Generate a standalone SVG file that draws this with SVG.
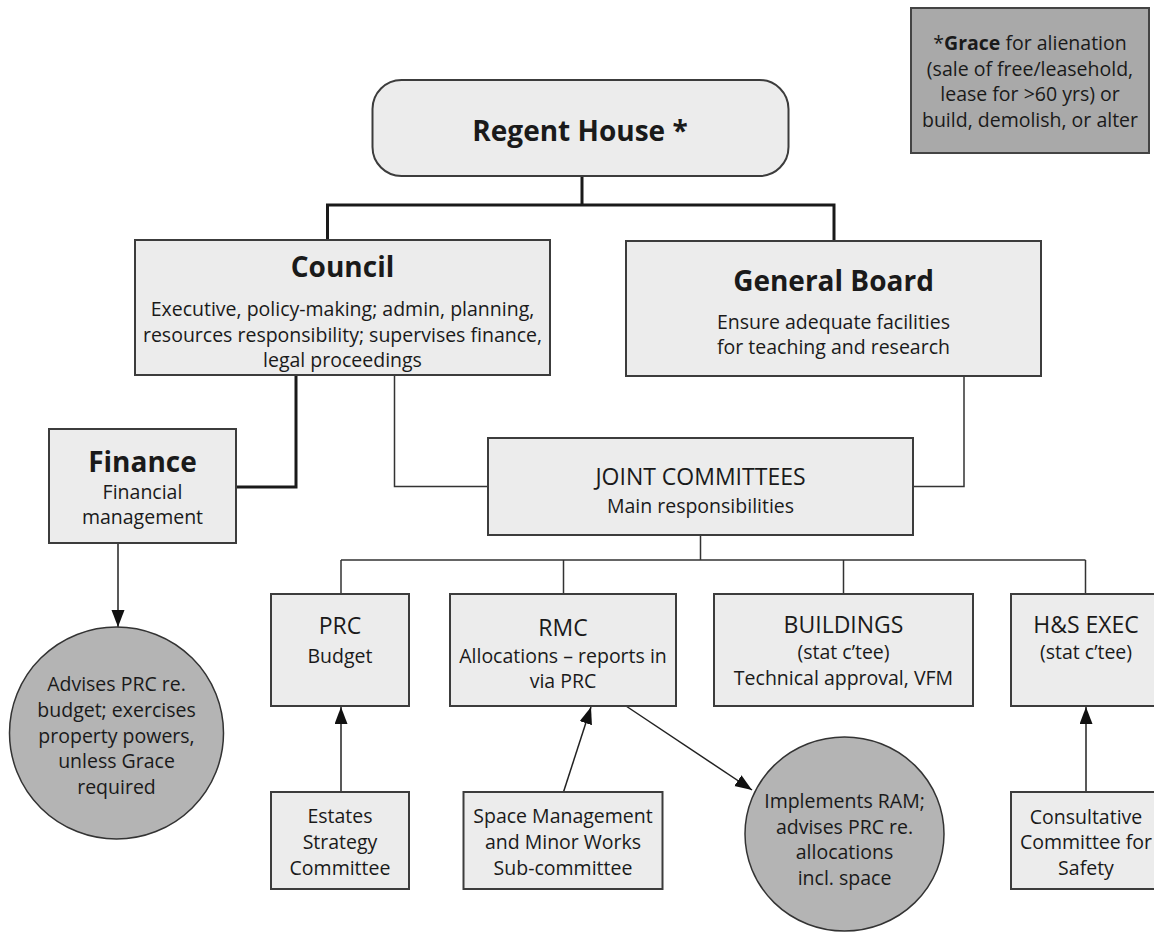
<svg xmlns="http://www.w3.org/2000/svg" width="1154" height="934" viewBox="0 0 1154 934">
<defs>
<style>
.box{fill:#ececec;stroke:#3c3c3c;stroke-width:2}
.circ{fill:#b4b4b4;stroke:#333;stroke-width:1.5}
.note{fill:#a9a9a9;stroke:#444;stroke-width:2}
text{font-family:"Open Sans","Noto Sans","Liberation Sans",sans-serif;fill:#1a1a1a;text-anchor:middle}
.b{font-size:19.5px}
.t{font-size:23px}
.h{font-size:28px;font-weight:bold}
.thick{fill:none;stroke:#1a1a1a;stroke-width:3}
.thin{fill:none;stroke:#333;stroke-width:1.5}
.arr{fill:none;stroke:#222;stroke-width:1.5;marker-end:url(#ah)}
</style>
<marker id="ah" markerUnits="userSpaceOnUse" markerWidth="18" markerHeight="14" refX="17" refY="6.5" orient="auto">
<path d="M0,0 L17,6.5 L0,13 z" fill="#111"/>
</marker>
</defs>
<rect width="1154" height="934" fill="#fff"/>

<g id="connectors">
<path class="thick" d="M582,176 V205 M327.5,240 V205 H834 V241"/>
<path class="thick" d="M296,375 V487 H236"/>
<path class="thin" d="M394.5,375 V486.5 H488 M964,376 V486.5 H913"/>
<path class="thin" d="M700.5,535 V560 M341,560 H1085.5 M341,560 V594 M563.5,560 V594 M843.5,560 V594 M1085.5,560 V594"/>
<path class="arr" d="M118,543 V627"/>
<path class="arr" d="M341,792 V707"/>
<path class="arr" d="M563.5,792 L591,707"/>
<path class="arr" d="M626,706 L752,790"/>
<path class="arr" d="M1086,792 V707"/>
</g>

<g id="grace-note">
<rect class="note" x="911" y="8" width="238" height="145"/>
<text class="b" x="1030" y="50">*<tspan font-weight="bold">Grace</tspan> for alienation</text>
<text class="b" x="1030" y="76">(sale of free/leasehold,</text>
<text class="b" x="1030" y="101">lease for &gt;60 yrs) or</text>
<text class="b" x="1030" y="127">build, demolish, or alter</text>
</g>

<g id="regent-house">
<rect class="box" x="372.5" y="80" width="416" height="96" rx="29" ry="29"/>
<text class="h" x="580" y="141">Regent House *</text>
</g>

<g id="council">
<rect class="box" x="135" y="240" width="415" height="135"/>
<text class="h" x="342.5" y="277">Council</text>
<text class="b" x="342.5" y="316">Executive, policy-making; admin, planning,</text>
<text class="b" x="342.5" y="342">resources responsibility; supervises finance,</text>
<text class="b" x="342.5" y="367">legal proceedings</text>
</g>

<g id="general-board">
<rect class="box" x="626" y="241" width="415" height="135"/>
<text class="h" x="833.5" y="291">General Board</text>
<text class="b" x="833.5" y="329">Ensure adequate facilities</text>
<text class="b" x="833.5" y="354">for teaching and research</text>
</g>

<g id="finance">
<rect class="box" x="49" y="429" width="187" height="114"/>
<text class="h" x="142.5" y="472">Finance</text>
<text class="b" x="142.5" y="499">Financial</text>
<text class="b" x="142.5" y="524">management</text>
</g>

<g id="joint-committees">
<rect class="box" x="488" y="438" width="425" height="97"/>
<text class="t" x="700.5" y="485">JOINT COMMITTEES</text>
<text class="b" x="700.5" y="513">Main responsibilities</text>
</g>

<g id="prc">
<rect class="box" x="271" y="594" width="138" height="112"/>
<text class="t" x="340" y="634">PRC</text>
<text class="b" x="340" y="663">Budget</text>
</g>

<g id="rmc">
<rect class="box" x="450" y="594" width="226" height="112"/>
<text class="t" x="563" y="636">RMC</text>
<text class="b" x="563" y="663">Allocations – reports in</text>
<text class="b" x="563" y="688">via PRC</text>
</g>

<g id="buildings">
<rect class="box" x="714" y="594" width="259" height="112"/>
<text class="t" x="843.5" y="633">BUILDINGS</text>
<text class="b" x="843.5" y="659">(stat c’tee)</text>
<text class="b" x="843.5" y="685">Technical approval, VFM</text>
</g>

<g id="hs-exec">
<rect class="box" x="1011" y="594" width="160" height="112"/>
<text class="t" x="1086" y="633">H&amp;S EXEC</text>
<text class="b" x="1086" y="659">(stat c’tee)</text>
</g>

<g id="finance-advice">
<ellipse class="circ" cx="116.5" cy="733" rx="107" ry="106"/>
<text class="b" x="116.5" y="691">Advises PRC re.</text>
<text class="b" x="116.5" y="717">budget; exercises</text>
<text class="b" x="116.5" y="742.5">property powers,</text>
<text class="b" x="116.5" y="768">unless Grace</text>
<text class="b" x="116.5" y="794">required</text>
</g>

<g id="estates-strategy">
<rect class="box" x="271" y="792" width="138" height="97"/>
<text class="b" x="340" y="823">Estates</text>
<text class="b" x="340" y="849">Strategy</text>
<text class="b" x="340" y="875">Committee</text>
</g>

<g id="space-management">
<rect class="box" x="463.5" y="792" width="199" height="97"/>
<text class="b" x="563" y="823">Space Management</text>
<text class="b" x="563" y="849">and Minor Works</text>
<text class="b" x="563" y="875">Sub-committee</text>
</g>

<g id="ram">
<ellipse class="circ" cx="844.5" cy="834" rx="99.5" ry="97"/>
<text class="b" x="844.5" y="808">Implements RAM;</text>
<text class="b" x="844.5" y="834">advises PRC re.</text>
<text class="b" x="844.5" y="859">allocations</text>
<text class="b" x="844.5" y="885">incl. space</text>
</g>

<g id="consultative">
<rect class="box" x="1011" y="792" width="160" height="97"/>
<text class="b" x="1086" y="824">Consultative</text>
<text class="b" x="1086" y="849">Committee for</text>
<text class="b" x="1086" y="875">Safety</text>
</g>
</svg>
